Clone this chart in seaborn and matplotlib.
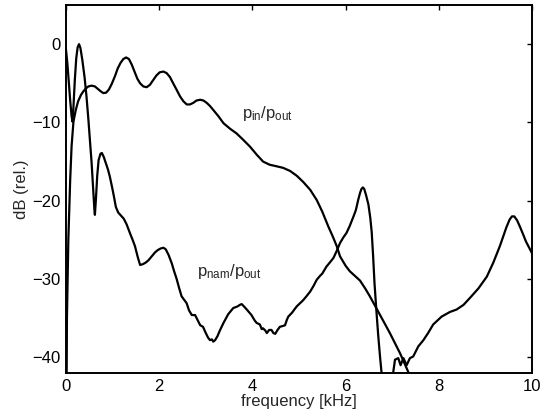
import numpy as np
import pandas as pd
import matplotlib
matplotlib.use("Agg")
import matplotlib.pyplot as plt
import seaborn as sns

# p_in / p_out curve (frequency in kHz, level in dB)
f_in = [0.0, 0.02, 0.05, 0.09, 0.12, 0.16, 0.21, 0.26, 0.32, 0.37,
        0.42, 0.48, 0.55, 0.62, 0.68, 0.74, 0.80, 0.86, 0.92, 0.98,
        1.05, 1.11, 1.17, 1.23, 1.29, 1.35, 1.41, 1.47, 1.53, 1.59,
        1.66, 1.73, 1.80, 1.87, 1.94, 2.01, 2.09, 2.16, 2.23, 2.30,
        2.38, 2.45, 2.52, 2.59, 2.66, 2.73, 2.80, 2.88, 2.95, 3.02,
        3.09, 3.16, 3.27, 3.38, 3.52, 3.66, 3.80, 3.95, 4.09, 4.23,
        4.37, 4.52, 4.66, 4.81, 4.95, 5.09, 5.24, 5.38, 5.50, 5.63,
        5.72, 5.81, 5.88, 6.00, 6.09, 6.20, 6.31, 6.42, 6.52, 6.63,
        6.74, 6.85, 6.95, 7.06, 7.17, 7.34, 7.40]
db_in = [-60, -35, -25, -17.3, -13.0, -9.9, -8.4, -7.3, -6.5, -6.05,
         -5.7, -5.4, -5.3, -5.4, -5.7, -6.0, -6.25, -6.2, -5.8, -5.1,
         -4.1, -3.1, -2.4, -1.9, -1.7, -1.9, -2.6, -3.5, -4.4, -5.0,
         -5.4, -5.5, -5.2, -4.6, -4.0, -3.6, -3.5, -3.7, -4.2, -5.0,
         -5.9, -6.7, -7.3, -7.7, -7.7, -7.5, -7.2, -7.1, -7.2, -7.5,
         -7.9, -8.4, -9.2, -10.1, -10.8, -11.4, -12.2, -13.1, -14.1, -15.0,
         -15.4, -15.6, -15.8, -16.2, -16.8, -17.6, -18.6, -19.9, -21.4, -23.3,
         -24.5, -25.8, -27.1, -28.3, -29.0, -29.6, -30.2, -31.2, -32.2, -33.4,
         -34.6, -35.8, -36.9, -38.2, -39.5, -41.8, -42.8]

# p_nam / p_out curve
f_nam = [0.00, 0.03, 0.06, 0.09, 0.12, 0.14, 0.16, 0.19, 0.22, 0.25,
         0.28, 0.31, 0.35, 0.40, 0.44, 0.48, 0.52, 0.55, 0.58, 0.61,
         0.62, 0.64, 0.67, 0.70, 0.74, 0.77, 0.81, 0.86, 0.90, 0.94,
         0.99, 1.03, 1.07, 1.12, 1.18, 1.24, 1.30, 1.37, 1.43, 1.48,
         1.54, 1.59, 1.65, 1.71, 1.77, 1.84, 1.91, 1.97, 2.03, 2.09,
         2.14, 2.20, 2.27, 2.32, 2.37, 2.43, 2.48, 2.53, 2.59, 2.64,
         2.70, 2.77, 2.83, 2.88, 2.94, 3.00, 3.05, 3.09, 3.13, 3.16,
         3.20, 3.25, 3.30, 3.38, 3.48, 3.59, 3.68, 3.73, 3.77, 3.82,
         3.88, 3.98, 4.05, 4.09, 4.16, 4.20, 4.23, 4.28, 4.31, 4.36,
         4.41, 4.45, 4.49, 4.54, 4.59, 4.65, 4.70, 4.74, 4.77, 4.85,
         4.95, 5.02, 5.09, 5.16, 5.24, 5.31, 5.38, 5.45, 5.50, 5.59,
         5.66, 5.74, 5.81, 5.88, 5.95, 6.02, 6.09, 6.17, 6.22, 6.27,
         6.31, 6.34, 6.37, 6.40, 6.44, 6.49, 6.53, 6.56, 6.59, 6.62,
         6.66, 6.70, 6.74, 6.78, 6.90, 7.02, 7.06, 7.13, 7.18, 7.24,
         7.31, 7.38, 7.45, 7.56, 7.67, 7.77, 7.88, 8.06, 8.24, 8.38,
         8.53, 8.67, 8.85, 9.03, 9.17, 9.31, 9.38, 9.45, 9.52, 9.57,
         9.62, 9.68, 9.74, 9.81, 9.87, 9.94, 10.0]
db_nam = [-0.7, -2.5, -4.8, -7.2, -9.2, -9.9, -8.0, -4.5, -1.8, -0.4,
          0.0, -0.5, -2.0, -4.3, -6.7, -9.6, -12.8, -15.2, -18.3, -21.2,
          -21.8, -20.0, -16.8, -14.8, -14.0, -13.9, -14.4, -15.3, -16.0, -16.9,
          -18.3, -19.5, -20.8, -21.5, -21.9, -22.3, -23.0, -24.1, -25.0, -25.8,
          -27.2, -28.2, -28.1, -27.9, -27.6, -27.1, -26.6, -26.3, -26.1, -26.0,
          -26.2, -26.9, -28.0, -29.0, -29.9, -31.2, -32.2, -32.6, -33.1, -34.0,
          -34.6, -34.6, -35.3, -35.9, -36.1, -36.9, -37.5, -37.8, -37.7, -38.0,
          -37.8, -37.3, -36.6, -35.6, -34.5, -33.7, -33.5, -33.3, -33.2, -33.5,
          -33.9, -34.6, -35.3, -35.6, -35.8, -36.4, -36.3, -36.6, -36.9, -36.5,
          -36.5, -36.9, -37.0, -36.5, -36.1, -36.0, -35.9, -35.2, -34.8, -34.3,
          -33.5, -33.1, -32.7, -32.2, -31.6, -30.9, -30.1, -29.6, -29.3, -28.4,
          -27.9, -27.3, -26.4, -25.4, -24.7, -24.1, -23.2, -22.0, -21.2, -19.9,
          -19.0, -18.5, -18.3, -18.5, -19.3, -20.5, -22.2, -24.0, -27.0, -30.5,
          -34.0, -37.2, -40.0, -42.5, -50.0, -42.0, -40.3, -40.1, -41.0, -40.1,
          -41.0, -40.1, -39.9, -38.6, -37.8, -36.9, -35.8, -34.8, -34.2, -33.9,
          -33.3, -32.4, -31.2, -29.7, -27.9, -25.8, -24.6, -23.4, -22.4, -22.0,
          -22.0, -22.5, -23.3, -24.3, -25.2, -26.0, -26.7]

x_ticks = [0, 2, 4, 6, 8, 10]
y_ticks = [0, -10, -20, -30, -40]
label_in = r"$\mathrm{p_{in}/p_{out}}$"
label_nam = r"$\mathrm{p_{nam}/p_{out}}$"

sns.set_style("white")
plt.rcParams["font.family"] = ["Liberation Sans", "DejaVu Sans"]
plt.rcParams["mathtext.fontset"] = "custom"
plt.rcParams["mathtext.rm"] = "Liberation Sans"
plt.rcParams["mathtext.it"] = "Liberation Sans"

df_in = pd.DataFrame({"f": f_in, "db": db_in})
df_nam = pd.DataFrame({"f": f_nam, "db": db_nam})

fig = plt.figure(figsize=(5.48, 4.18), dpi=100)
ax = fig.add_axes([66 / 548, 1 - 373 / 418, (532 - 66) / 548, (373 - 5) / 418])

sns.lineplot(data=df_in, x="f", y="db", ax=ax, color="black", linewidth=1.6,
             sort=False, estimator=None)
sns.lineplot(data=df_nam, x="f", y="db", ax=ax, color="black", linewidth=1.6,
             sort=False, estimator=None)

ax.set_xlim(0, 10)
ax.set_ylim(-42, 5)
ax.set_xticks(x_ticks)
ax.set_yticks(y_ticks)
ax.set_xticklabels([str(t) for t in x_ticks])
ax.set_yticklabels([str(t).replace("-", "\u2212") for t in y_ticks])
ax.tick_params(direction="in", length=3.5, width=1.0, top=True, right=True,
               labelsize=12, colors="black", pad=4)
for s in ax.spines.values():
    s.set_visible(True)
    s.set_color("black")
    s.set_linewidth(1.4)

ax.set_xlabel("frequency [kHz]", fontsize=12, labelpad=0)
ax.set_ylabel("dB (rel.)", fontsize=12, labelpad=2)

ax.text(3.77, -9.4, label_in, fontsize=12, ha="left", va="baseline")
ax.text(2.81, -29.6, label_nam, fontsize=12, ha="left", va="baseline")

fig.savefig("out.png", dpi=100)
